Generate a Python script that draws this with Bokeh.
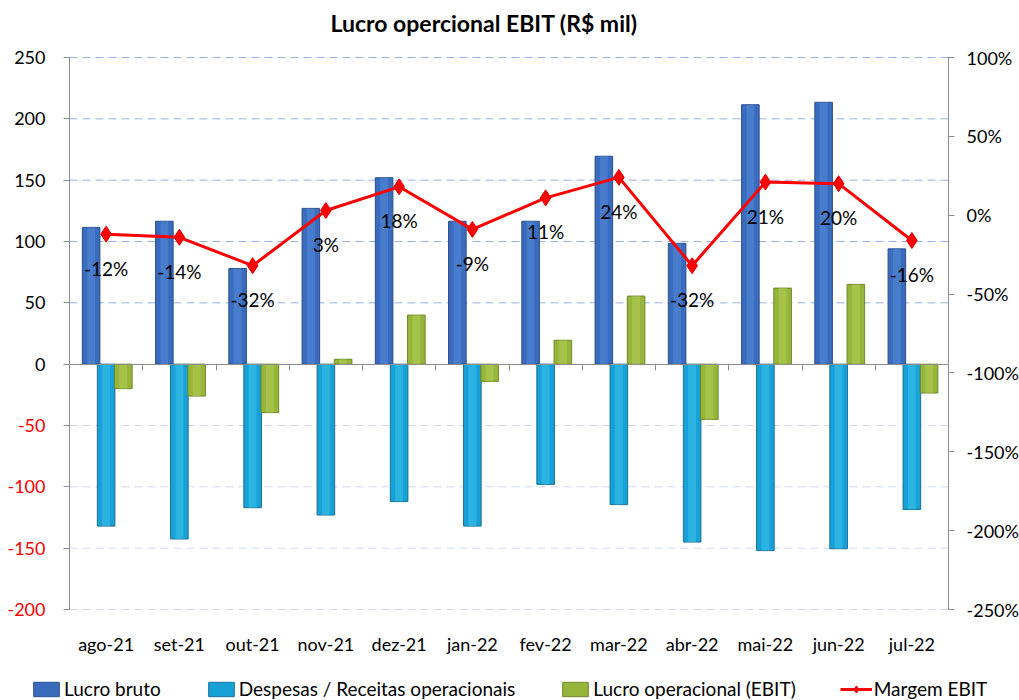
from bokeh.plotting import figure
from bokeh.models import (Range1d, LinearAxis, FixedTicker, ColumnDataSource,
                          Legend, LegendItem)
from bokeh.transform import dodge
from bokeh.core.properties import value
from bokeh.embed import file_html
from bokeh.resources import INLINE

# ---------------- data ----------------
categories = ["ago-21", "set-21", "out-21", "nov-21", "dez-21", "jan-22",
              "fev-22", "mar-22", "abr-22", "mai-22", "jun-22", "jul-22"]
lucro_bruto = [111.5, 116.5, 78, 127, 152, 116.5, 116.5, 169.5, 98.5, 211.5, 213.5, 94]
despesas = [-132, -142.5, -117, -123, -112, -132, -98, -114.5, -145, -152, -150.5, -118.5]
lucro_operacional = [-20, -26, -39.5, 4, 40, -14, 19.5, 55.5, -45, 62, 65, -23.5]
margem_ebit = [-12, -14, -32, 3, 18, -9, 11, 24, -32, 21, 20, -16]

left_ticks = [-200, -150, -100, -50, 0, 50, 100, 150, 200, 250]
right_ticks = [-250, -200, -150, -100, -50, 0, 50, 100]

title_text = "Lucro opercional  EBIT (R$ mil)"
series_names = ["Lucro bruto", "Despesas / Receitas operacionais",
                "Lucro operacional (EBIT)", "Margem EBIT"]

FONT = "Lato"
N = len(categories)

# ---------------- layout (pixels) ----------------
W_PX, H_PX = 1019, 700
TOP_BORDER = 40                 # room for the title
AX_L, AX_R = 69, 948            # plot area left / right edge
AX_T, AX_B = 57, 609            # plot area top / bottom edge
TICK_OUT, LEFT_STANDOFF = 6, 18

kx = (AX_R - AX_L) / N
x_start = -AX_L / kx
x_end = N + (W_PX - AX_R) / kx

ly0, ly1 = left_ticks[0], left_ticks[-1]
uy = (ly1 - ly0) / (AX_B - AX_T)
ry0, ry1 = right_ticks[0], right_ticks[-1]
ury = (ry1 - ry0) / (AX_B - AX_T)

xs = [i + 0.5 for i in range(N)]
src = ColumnDataSource(dict(
    x=xs, cat=categories, bruto=lucro_bruto, desp=despesas,
    ebit=lucro_operacional, margem=margem_ebit,
    mlabel=[f"{m}%" for m in margem_ebit],
))

neg_ticks = [t for t in left_ticks if t < 0]
pos_ticks = [t for t in left_ticks if t > 0]
nonneg_ticks = [t for t in left_ticks if t >= 0]

p = figure(width=W_PX, height=H_PX,
           x_range=Range1d(x_start, x_end),
           y_range=Range1d(ly0 - (H_PX - AX_B) * uy, ly1 + (AX_T - TOP_BORDER) * uy),
           x_axis_location=None, y_axis_location=None,
           output_backend="svg", toolbar_location=None,
           min_border=0, min_border_top=TOP_BORDER)
p.extra_y_ranges = {"pct": Range1d(ry0 - (H_PX - AX_B) * ury,
                                   ry1 + (AX_T - TOP_BORDER) * ury)}
p.outline_line_color = None
p.background_fill_color = "white"
p.border_fill_color = "white"
p.xgrid.visible = False
p.ygrid.visible = False

# title
p.title.text = title_text
p.title.text_font = FONT
p.title.text_font_size = "23px"
p.title.text_font_style = "bold"
p.title.text_color = "black"
p.title.align = "left"
p.title.offset = 330
p.title.standoff = 8

AXIS_COLOR = "#8c8c8c"
TICK_FONT = "18px"

# dashed horizontal gridlines across the plot area
grid_pos = ColumnDataSource(dict(y=pos_ticks, x0=[0] * len(pos_ticks), x1=[N] * len(pos_ticks)))
grid_neg = ColumnDataSource(dict(y=neg_ticks, x0=[0] * len(neg_ticks), x1=[N] * len(neg_ticks)))
p.segment(x0="x0", x1="x1", y0="y", y1="y", source=grid_pos,
          line_color="#9bb1df", line_dash="8 5", line_width=1)
p.segment(x0="x0", x1="x1", y0="y", y1="y", source=grid_neg,
          line_color="#d0d8ef", line_dash="8 5", line_width=1)


def style_axis(ax, color="black", standoff=12):
    ax.major_label_text_font = FONT
    ax.major_label_text_font_size = TICK_FONT
    ax.major_label_text_color = color
    ax.major_label_standoff = standoff
    ax.major_tick_out = TICK_OUT
    ax.major_tick_in = 0
    ax.minor_tick_line_color = None
    ax.axis_line_color = AXIS_COLOR
    ax.major_tick_line_color = AXIS_COLOR


# left axis: black labels for values >= 0
ya_pos = LinearAxis(fixed_location=0, bounds=(ly0, ly1),
                    ticker=FixedTicker(ticks=nonneg_ticks))
style_axis(ya_pos, "black", LEFT_STANDOFF)
p.add_layout(ya_pos, "left")
# tick marks for the negative values; their labels are drawn in red below
ya_neg = LinearAxis(fixed_location=0, bounds=(ly0, ly1),
                    ticker=FixedTicker(ticks=neg_ticks))
style_axis(ya_neg, "black", LEFT_STANDOFF)
ya_neg.major_label_text_color = None
p.add_layout(ya_neg, "left")
neg_src = ColumnDataSource(dict(y=neg_ticks, x=[0] * len(neg_ticks),
                                text=[str(t) for t in neg_ticks]))
p.text("x", "y", text="text", source=neg_src, x_offset=-(TICK_OUT + LEFT_STANDOFF),
       text_align="right", text_baseline="middle", text_color="#ff0000",
       text_font=value(FONT), text_font_size=TICK_FONT)

# right axis (percent)
ra = LinearAxis(fixed_location=N, y_range_name="pct", bounds=(ry0, ry1),
                ticker=FixedTicker(ticks=right_ticks))
ra.major_label_overrides = {t: f"{t}%" for t in right_ticks}
style_axis(ra, "black", 12)
p.add_layout(ra, "right")

# category labels under the plot area
xa = LinearAxis(fixed_location=ly0, bounds=(0, N), ticker=FixedTicker(ticks=xs))
xa.major_label_overrides = {x: c for x, c in zip(xs, categories)}
xa.major_label_text_font = FONT
xa.major_label_text_font_size = TICK_FONT
xa.major_label_text_color = "black"
xa.major_label_standoff = 23
xa.major_tick_out = 0
xa.major_tick_in = 0
xa.major_tick_line_color = None
xa.minor_tick_line_color = None
xa.axis_line_color = None
p.add_layout(xa, "below")

# zero line with category boundary ticks
za = LinearAxis(fixed_location=0, bounds=(0, N),
                ticker=FixedTicker(ticks=list(range(1, N))))
za.major_label_text_color = None
za.major_label_standoff = 0
za.major_tick_out = 6
za.major_tick_in = 0
za.minor_tick_line_color = None
za.axis_line_color = AXIS_COLOR
za.major_tick_line_color = AXIS_COLOR
p.add_layout(za, "below")

# bars
W = 0.24
BLUE, BLUE_E, BLUE_H = "#3a6bbd", "#2b4f8c", "#5c93dd"
CYAN, CYAN_E, CYAN_H = "#17a1d6", "#1a6f96", "#45c9f2"
GREEN, GREEN_E, GREEN_H = "#96b53a", "#6c8829", "#b7d55e"

r_b = p.vbar(x=dodge("x", -0.205), top="bruto", bottom=0, width=W, source=src,
             fill_color=BLUE, line_color=BLUE_E, line_width=1)
p.vbar(x=dodge("x", -0.205), top="bruto", bottom=0, width=W * 0.45, source=src,
       fill_color=BLUE_H, fill_alpha=0.45, line_color=None)
r_d = p.vbar(x=dodge("x", 0.0), top="desp", bottom=0, width=W, source=src,
             fill_color=CYAN, line_color=CYAN_E, line_width=1)
p.vbar(x=dodge("x", 0.0), top="desp", bottom=0, width=W * 0.45, source=src,
       fill_color=CYAN_H, fill_alpha=0.45, line_color=None)
r_e = p.vbar(x=dodge("x", 0.235), top="ebit", bottom=0, width=W, source=src,
             fill_color=GREEN, line_color=GREEN_E, line_width=1)
p.vbar(x=dodge("x", 0.235), top="ebit", bottom=0, width=W * 0.45, source=src,
       fill_color=GREEN_H, fill_alpha=0.45, line_color=None)

# margin line
r_l = p.line("x", "margem", source=src, y_range_name="pct",
             line_color="#ff0000", line_width=3)
r_m = p.scatter("x", "margem", source=src, y_range_name="pct", marker="diamond",
                size=16, fill_color="#ff0000", line_color="#e00000")
p.text("x", "margem", text="mlabel", source=src, y_range_name="pct",
       text_align="center", text_baseline="middle", y_offset=34,
       text_font=value(FONT), text_font_size="19px", text_color="black")

# legend along the bottom edge
legend = Legend(items=[
    LegendItem(label=series_names[0], renderers=[r_b]),
    LegendItem(label=series_names[1], renderers=[r_d]),
    LegendItem(label=series_names[2], renderers=[r_e]),
    LegendItem(label=series_names[3], renderers=[r_l, r_m]),
], orientation="horizontal", location=(30, 0))
legend.label_text_font = FONT
legend.label_text_font_size = "19px"
legend.label_text_color = "black"
legend.glyph_width = 32
legend.glyph_height = 18
legend.label_standoff = 2
legend.spacing = 44
legend.padding = 0
legend.margin = 0
legend.border_line_color = None
legend.background_fill_alpha = 0
p.add_layout(legend)

open("out.html", "w").write(file_html(p, INLINE))
